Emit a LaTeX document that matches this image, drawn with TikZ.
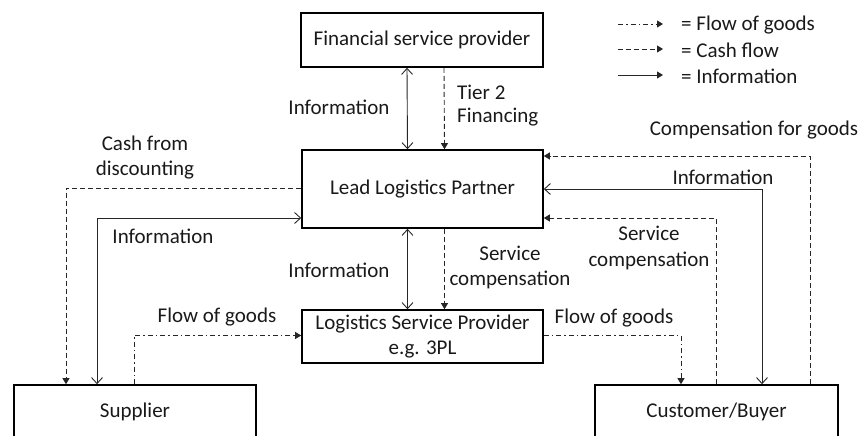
\documentclass[tikz,border=0pt]{standalone}
\usepackage{fontspec}
\setmainfont{Carlito}
\usetikzlibrary{arrows.meta}
\begin{document}
\begin{tikzpicture}[x=1pt,y=-1pt,
  every node/.style={font=\fontsize{21}{25.5}\selectfont, text=black!90, inner sep=0pt},
  entity/.style={draw=black, line width=1.6pt, minimum width=242pt, align=center},
  lbl/.style={align=center},
  conn/.style={draw=black!85, line width=0.9pt},
  info/.style={conn, {Straight Barb[length=6pt,width=11pt]}-{Straight Barb[length=6pt,width=11pt]}},
  cash/.style={conn, dash pattern=on 5pt off 3pt, -{Triangle[length=6pt,width=7pt]}},
  goods/.style={conn, dash pattern=on 5pt off 3pt on 1.5pt off 3pt, -{Triangle[length=6pt,width=7pt]}},
  infolegend/.style={conn, -{Triangle[length=6pt,width=7pt]}}
]
\useasboundingbox (0,0) rectangle (864,436);

% entities
\node[entity, minimum height=54pt] (fsp) at (422,40) {Financial service provider};
\node[entity, minimum height=78pt, minimum width=241pt] (llp) at (422.5,189) {Lead Logistics Partner};
\node[entity, minimum height=53pt, minimum width=241pt] (lsp) at (422.5,336.5) {Logistics Service Provider\\e.g. 3PL};
\node[entity, minimum height=54pt] (sup) at (135,412) {Supplier};
\node[entity, minimum height=54pt, minimum width=243pt] (cust) at (716.5,412) {Customer/Buyer};

% vertical connectors
\draw[info] ([xshift=-15pt]fsp.south) -- ([xshift=-15pt]llp.north);
\draw[cash] ([xshift=22pt]fsp.south) -- ([xshift=22pt]llp.north);
\draw[info] ([xshift=-15pt]llp.south) -- ([xshift=-15pt]lsp.north);
\draw[cash] ([xshift=22pt]llp.south) -- ([xshift=22pt]lsp.north);

% left side
\draw[cash] ([yshift=1pt]llp.west) -| ([xshift=-69pt]sup.north);
\draw[info] ([xshift=-38pt]sup.north) |- ([yshift=-29pt]llp.west);
\draw[goods] ([xshift=-1pt]sup.north) |- ([yshift=1pt]lsp.west);

% right side
\draw[goods] ([yshift=1pt]lsp.east) -| ([xshift=-35.5pt]cust.north);
\draw[cash] ([xshift=-0.5pt]cust.north) |- ([yshift=-29pt]llp.east);
\draw[info] ([xshift=45.5pt]cust.north) |- (llp.east);
\draw[cash] ([xshift=93.5pt]cust.north) |- ([yshift=33pt]llp.east);

% labels
\node[lbl] (l1) at (339,107) {Information};
\node[anchor=west] (l2) at (457,92) {Tier 2};
\node[anchor=west] (l3) at (457,117) {Financing};
\node[lbl] (l4) at (145,157.5) {Cash from\\discounting};
\node[lbl] (l5) at (754,130) {Compensation for goods};
\node[lbl] (l6) at (723,177) {Information};
\node[lbl] (l7) at (163,236) {Information};
\node[lbl] (l8) at (339,270) {Information};
\node[lbl] (l9) at (510,267.5) {Service\\compensation};
\node[lbl] (l10) at (649,248) {Service\\compensation};
\node[lbl] (l11) at (217,317) {Flow of goods};
\node[lbl] (l12) at (614,318) {Flow of goods};

% legend
\coordinate (g1a) at (618,24);
\coordinate (g1b) at (663,24);
\coordinate (g2a) at (618,49);
\coordinate (g2b) at (663,49);
\coordinate (g3a) at (618,75);
\coordinate (g3b) at (663,75);
\draw[goods] (g1a) -- (g1b);
\draw[cash] (g2a) -- (g2b);
\draw[infolegend] (g3a) -- (g3b);
\node[anchor=west] (t1) at (681,25) {= Flow of goods};
\node[anchor=west] (t2) at (681,50) {= Cash flow};
\node[anchor=west] (t3) at (681,76) {= Information};
\end{tikzpicture}
\end{document}
